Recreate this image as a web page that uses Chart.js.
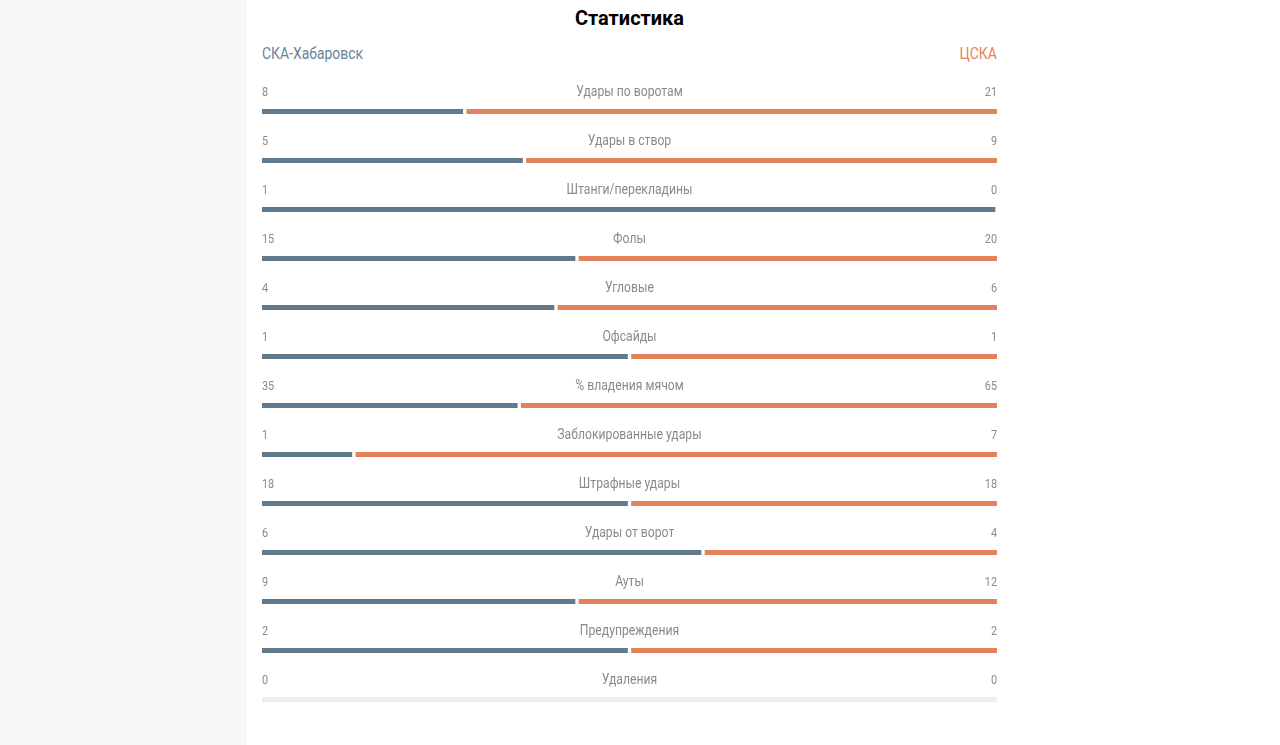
<!DOCTYPE html>
<html lang="ru">
<head>
  <meta charset="UTF-8">
  <title>Статистика</title>
  <script src="https://cdn.jsdelivr.net/npm/chart.js"></script>
  <style>
    body { margin: 0; padding: 0; background: #fff; font-family: Roboto, sans-serif; }
    .page { position: relative; width: 1280px; height: 745px; overflow: hidden; }
    .sidebar { position: absolute; left: 0; top: 0; width: 247px; height: 745px; background: #f7f7f7; }
    h2 { position: absolute; left: 262px; width: 735px; top: 6px; margin: 0; text-align: center; font-size: 20px; font-weight: 700; color: #000; line-height: 24px; }
    .team { position: absolute; top: 44px; font-size: 16px; line-height: 20px; }
    .team.home { left: 262px; color: #6b8394; transform: scaleX(0.87); transform-origin: left center; }
    .team.away { right: 283px; color: #e5825c; transform: scaleX(0.87); transform-origin: right center; }
    canvas { position: absolute; left: 0; top: 0; }
  </style>
</head>
<body>
  <div class="page">
    <div class="sidebar"></div>
    <h2>Статистика</h2>
    <div class="team home">СКА-Хабаровск</div>
    <div class="team away">ЦСКА</div>
    <canvas id="statsChart" width="1280" height="745"></canvas>
  </div>

  <script>
    // match stats
    const categories = ['Удары по воротам', 'Удары в створ', 'Штанги/перекладины', 'Фолы', 'Угловые', 'Офсайды',
      '% владения мячом', 'Заблокированные удары', 'Штрафные удары', 'Удары от ворот', 'Ауты', 'Предупреждения', 'Удаления'];
    const homeValues = [8, 5, 1, 15, 4, 1, 35, 1, 18, 6, 9, 2, 0];
    const awayValues = [21, 9, 0, 20, 6, 1, 65, 7, 18, 4, 12, 2, 0];

    const homeColor = '#617a8b';
    const awayColor = '#e4825c';
    const textColor = '#8a8a8a';

    // shares of each row (0..1); zero values are left out, an empty row gets a grey track
    const homeShare = homeValues.map((h, i) => h ? h / (h + awayValues[i]) : null);
    const awayShare = awayValues.map((a, i) => a ? a / (a + homeValues[i]) : null);
    const emptyShare = homeValues.map((h, i) => (h + awayValues[i]) ? null : 1);

    function condensedText(ctx, text, x, y, align, size) {
      ctx.save();
      ctx.font = '400 ' + size + 'px Roboto, sans-serif';
      ctx.fillStyle = textColor;
      ctx.textAlign = align;
      ctx.textBaseline = 'alphabetic';
      ctx.translate(x, y);
      ctx.scale(0.87, 1);
      ctx.fillText(text, 0, 0);
      ctx.restore();
    }

    // row captions and numbers above each bar
    const rowLabels = {
      id: 'rowLabels',
      afterDatasetsDraw(chart) {
        const ctx = chart.ctx;
        const area = chart.chartArea;
        const mid = (area.left + area.right) / 2;
        const yScale = chart.scales.y;
        categories.forEach((name, i) => {
          const y = yScale.getPixelForValue(i) - 15.5;
          condensedText(ctx, name, mid, y, 'center', 14);
          condensedText(ctx, String(homeValues[i]), area.left, y, 'left', 12.5);
          condensedText(ctx, String(awayValues[i]), area.right, y, 'right', 12.5);
        });
      }
    };

    new Chart(document.getElementById('statsChart'), {
      type: 'bar',
      data: {
        labels: categories,
        datasets: [
          {
            data: homeShare,
            backgroundColor: homeColor,
            borderColor: '#ffffff',
            borderWidth: { right: 2 },
            borderSkipped: false,
            barThickness: 5
          },
          {
            data: awayShare,
            backgroundColor: awayColor,
            borderColor: '#ffffff',
            borderWidth: { left: 2 },
            borderSkipped: false,
            barThickness: 5
          },
          {
            data: emptyShare,
            backgroundColor: '#eeeeee',
            borderWidth: 0,
            barThickness: 5
          }
        ]
      },
      options: {
        indexAxis: 'y',
        responsive: false,
        animation: false,
        layout: { padding: { left: 262, right: 283, top: 87, bottom: 21 } },
        scales: {
          x: { stacked: true, min: 0, max: 1, display: false },
          y: { stacked: true, display: false }
        },
        plugins: {
          legend: { display: false },
          tooltip: { enabled: false },
          title: { display: false }
        }
      },
      plugins: [rowLabels]
    });
  </script>
</body>
</html>
